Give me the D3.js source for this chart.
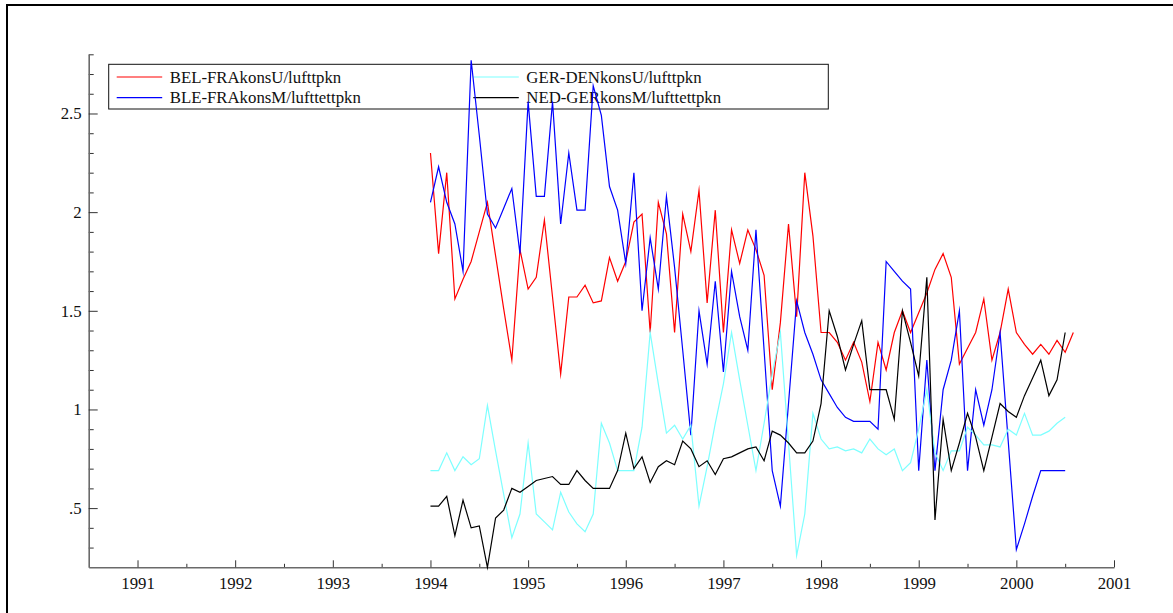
<!DOCTYPE html>
<html>
<head>
<meta charset="utf-8">
<script src="https://cdn.jsdelivr.net/npm/d3@7"></script>
<style>
  html, body { margin: 0; padding: 0; background: #ffffff; }
  svg { display: block; }
  text { font-family: "Liberation Serif", "Times New Roman", serif; fill: #111; }
</style>
</head>
<body>
<svg id="chart" width="1173" height="613"></svg>
<script>
// Monthly observations, first value = January 1994
const firstYear = 1994;

const seriesNames = [
  "BEL-FRAkonsU/lufttpkn",
  "BLE-FRAkonsM/lufttettpkn",
  "GER-DENkonsU/lufttpkn",
  "NED-GERkonsM/lufttettpkn"
];
const seriesColors = ["#ff0000", "#0000ff", "#7dffff", "#000000"];

const belFraU = [
  2.30, 1.79, 2.20, 1.56, 1.66, 1.75, 1.90, 2.05, 1.78, 1.51, 1.25, 1.81,
  1.61, 1.67, 1.96, 1.57, 1.18, 1.57, 1.57, 1.63, 1.54, 1.55, 1.77, 1.65,
  1.75, 1.95, 1.99, 1.39, 2.05, 1.89, 1.39, 1.99, 1.80, 2.11, 1.54, 2.01,
  1.39, 1.91, 1.74, 1.91, 1.81, 1.68, 1.10, 1.44, 1.94, 1.47, 2.20, 1.88,
  1.39, 1.39, 1.34, 1.25, 1.34, 1.24, 1.04, 1.34, 1.20, 1.39, 1.50, 1.39,
  1.49, 1.59, 1.71, 1.79, 1.67, 1.23, 1.31, 1.39, 1.56, 1.25, 1.39, 1.61,
  1.39, 1.33, 1.28, 1.33, 1.28, 1.35, 1.29, 1.39
];

const bleFraM = [
  2.05, 2.23, 2.05, 1.94, 1.70, 2.77, 2.39, 1.99, 1.92, 2.02, 2.12, 1.79,
  2.56, 2.08, 2.08, 2.56, 1.94, 2.30, 2.01, 2.01, 2.64, 2.49, 2.13, 2.01,
  1.74, 2.20, 1.50, 1.87, 1.61, 2.08, 1.72, 1.30, 0.87, 1.50, 1.23, 1.65,
  1.19, 1.70, 1.47, 1.30, 1.91, 1.30, 0.69, 0.51, 1.03, 1.55, 1.39, 1.28,
  1.15, 1.08, 1.01, 0.96, 0.94, 0.94, 0.94, 0.90, 1.75, 1.70, 1.65, 1.61,
  0.69, 1.25, 0.69, 1.10, 1.25, 1.50, 0.69, 1.10, 0.92, 1.10, 1.39, 0.84,
  0.29, 0.42, 0.56, 0.69, 0.69, 0.69, 0.69
];

const gerDenU = [
  0.69, 0.69, 0.78, 0.69, 0.76, 0.72, 0.75, 1.02, 0.79, 0.57, 0.35, 0.47,
  0.83, 0.47, 0.43, 0.39, 0.58, 0.48, 0.42, 0.38, 0.47, 0.93, 0.83, 0.69,
  0.69, 0.69, 0.91, 1.39, 1.13, 0.88, 0.92, 0.85, 0.92, 0.51, 0.71, 0.93,
  1.13, 1.39, 1.15, 0.92, 0.69, 0.93, 1.18, 1.39, 0.83, 0.26, 0.47, 0.98,
  0.85, 0.80, 0.81, 0.79, 0.80, 0.78, 0.85, 0.80, 0.77, 0.80, 0.69, 0.73,
  0.90, 1.10, 0.78, 0.69, 0.79, 0.79, 0.91, 0.87, 0.82, 0.82, 0.81, 0.90,
  0.87, 0.98, 0.87, 0.87, 0.89, 0.93, 0.96
];

const nedGerM = [
  0.51, 0.51, 0.56, 0.36, 0.54, 0.40, 0.41, 0.20, 0.45, 0.49, 0.60, 0.58,
  0.61, 0.64, 0.65, 0.66, 0.62, 0.62, 0.69, 0.64, 0.60, 0.60, 0.60, 0.69,
  0.88, 0.70, 0.76, 0.63, 0.71, 0.74, 0.72, 0.84, 0.80, 0.71, 0.74, 0.67,
  0.75, 0.76, 0.78, 0.80, 0.81, 0.74, 0.89, 0.87, 0.83, 0.78, 0.78, 0.84,
  1.03, 1.50, 1.37, 1.20, 1.33, 1.45, 1.10, 1.10, 1.10, 0.95, 1.50, 1.34,
  1.17, 1.67, 0.44, 0.95, 0.69, 0.83, 0.98, 0.86, 0.69, 0.86, 1.03, 0.99,
  0.96, 1.07, 1.16, 1.25, 1.07, 1.15, 1.39
];

const yearTicks = [1991, 1992, 1993, 1994, 1995, 1996, 1997, 1998, 1999, 2000, 2001];
const valueTicks = [0.5, 1, 1.5, 2, 2.5];
const valueTickLabels = [".5", "1", "1.5", "2", "2.5"];

const seriesValues = [belFraU, bleFraM, gerDenU, nedGerM];

// ---- layout ----
const svg = d3.select("#chart");
const plot = { left: 88.7, right: 1114, top: 54.3, bottom: 567.3 };

const x = d3.scaleLinear().domain([1990.5, 2001]).range([plot.left, plot.right]);
const y = d3.scaleLinear().domain([0.2, 2.8]).range([plot.bottom, plot.top]);

// outer frame
svg.append("rect")
  .attr("x", 7).attr("y", 5)
  .attr("width", 1300).attr("height", 800)
  .attr("fill", "none").attr("stroke", "#000").attr("stroke-width", 2);

const fontSize = 16.8;

// ---- x axis ----
const halfYears = d3.range(1991.5, 2001, 1);
const xMinor = svg.append("g").attr("transform", `translate(0,${plot.bottom})`)
  .call(d3.axisBottom(x).tickValues(halfYears).tickSize(-3.5).tickSizeOuter(0).tickFormat(""));
xMinor.select(".domain").remove();

const xAxis = svg.append("g").attr("transform", `translate(0,${plot.bottom})`)
  .call(d3.axisBottom(x).tickValues(yearTicks).tickSize(-7).tickSizeOuter(0)
    .tickPadding(10).tickFormat(d3.format("d")));

// ---- y axis ----
const tenths = d3.range(3, 29).map(k => k / 10).filter(v => !valueTicks.some(t => Math.abs(t - v) < 1e-9));
const yMinor = svg.append("g").attr("transform", `translate(${plot.left},0)`)
  .call(d3.axisLeft(y).tickValues(tenths).tickSize(-5).tickSizeOuter(0).tickFormat(""));
yMinor.select(".domain").remove();

const yAxis = svg.append("g").attr("transform", `translate(${plot.left},0)`)
  .call(d3.axisLeft(y).tickValues(valueTicks).tickSize(-9).tickSizeOuter(0)
    .tickPadding(7).tickFormat((d, i) => valueTickLabels[i]));

[xAxis, yAxis].forEach(g => {
  g.select(".domain").attr("stroke", "#6a6a6a").attr("stroke-width", 1.6);
  g.selectAll("text").attr("font-size", fontSize)
    .attr("font-family", "Liberation Serif, Times New Roman, serif").attr("fill", "#111");
});
[xAxis, yAxis, xMinor, yMinor].forEach(g => {
  g.selectAll(".tick line").attr("stroke", "#333").attr("stroke-width", 1);
});

// ---- legend ----
const legend = svg.append("g");
legend.append("rect")
  .attr("x", 108.7).attr("y", 64.3).attr("width", 719.6).attr("height", 44.7)
  .attr("fill", "none").attr("stroke", "#111").attr("stroke-width", 1);

const legendCols = [116.7, 473.3];
const legendRows = [77, 97.6];
seriesNames.forEach((name, i) => {
  const col = Math.floor(i / 2), row = i % 2;
  const lx = legendCols[col], ly = legendRows[row];
  legend.append("line")
    .attr("x1", lx).attr("x2", lx + 45.5).attr("y1", ly).attr("y2", ly)
    .attr("stroke", seriesColors[i]).attr("stroke-width", 1.2);
  legend.append("text")
    .attr("x", lx + 53).attr("y", ly + 5.6)
    .attr("font-size", fontSize)
    .text(name);
});

// ---- series lines ----
const line = d3.line()
  .x(d => x(d.t))
  .y(d => y(d.v));

seriesValues.forEach((vals, i) => {
  const pts = vals.map((v, k) => ({ t: firstYear + k / 12, v }));
  svg.append("path")
    .datum(pts)
    .attr("d", line)
    .attr("fill", "none")
    .attr("stroke", seriesColors[i])
    .attr("stroke-width", 1.2)
    .attr("stroke-linejoin", "miter")
    .attr("stroke-miterlimit", 10);
});
</script>
</body>
</html>
